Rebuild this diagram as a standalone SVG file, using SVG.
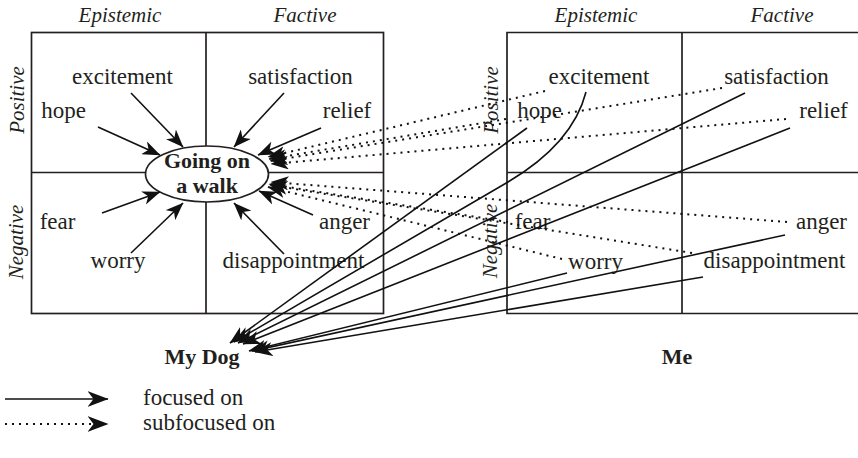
<svg xmlns="http://www.w3.org/2000/svg" width="858" height="458" viewBox="0 0 858 458">
<style>
.bg{fill:#ffffff}
.box{fill:none;stroke:#231f20;stroke-width:1.7}
.t{font-family:'Liberation Serif','Times New Roman',serif;font-size:23px;fill:#231f20;text-anchor:middle}
.h{font-style:italic;font-size:21px}
.b{font-weight:bold;font-size:22px}
.s{fill:none;stroke:#111;stroke-width:1.6;marker-end:url(#ah)}
.d{stroke-width:2;stroke-dasharray:2 5}
</style>
<defs>
<marker id="ah" markerUnits="userSpaceOnUse" viewBox="0 0 18 14" markerWidth="18" markerHeight="14" refX="17.5" refY="7" orient="auto">
<path d="M0,0 L18,7 L0,14 L5,7 z" fill="#111" stroke="none"/>
</marker>
<marker id="ahL" markerUnits="userSpaceOnUse" viewBox="0 0 21 16" markerWidth="21" markerHeight="16" refX="20.5" refY="8" orient="auto">
<path d="M0,0 L21,8 L0,16 L6,8 z" fill="#111" stroke="none"/>
</marker>
</defs>
<rect class="bg" x="0" y="0" width="858" height="458"/>

<g font-family="Liberation Serif, serif">
<g id="grid-dog">
<rect class="box" x="31.5" y="32.5" width="352" height="281"/>
<line class="box" x1="206" y1="32.5" x2="206" y2="313.5"/>
<line class="box" x1="31.5" y1="172.5" x2="383.5" y2="172.5"/>
<text class="t h" x="120" y="22">Epistemic</text>
<text class="t h" x="305" y="22">Factive</text>
<text class="t h" transform="translate(24,100) rotate(-90)">Positive</text>
<text class="t h" transform="translate(23,242) rotate(-90)">Negative</text>
</g>

<g id="grid-me">
<path class="box" d="M870,32.5 H507 V313.5 H870"/>
<line class="box" x1="682" y1="32.5" x2="682" y2="313.5"/>
<line class="box" x1="507" y1="172.5" x2="870" y2="172.5"/>
<text class="t h" x="596" y="22">Epistemic</text>
<text class="t h" x="782" y="22">Factive</text>
<text class="t h" transform="translate(498,100) rotate(-90)">Positive</text>
<text class="t h" transform="translate(497,241) rotate(-90)">Negative</text>
</g>

<g id="dog-excitement"><text class="t" x="122.5" y="84">excitement</text></g>
<g id="dog-hope"><text class="t" x="63.5" y="118">hope</text></g>
<g id="dog-satisfaction"><text class="t" x="300.5" y="84">satisfaction</text></g>
<g id="dog-relief"><text class="t" x="347" y="118">relief</text></g>
<g id="dog-fear"><text class="t" x="57.5" y="229">fear</text></g>
<g id="dog-anger"><text class="t" x="344.5" y="229">anger</text></g>
<g id="dog-worry"><text class="t" x="118" y="268">worry</text></g>
<g id="dog-disappointment"><text class="t" x="293.5" y="268">disappointment</text></g>

<g id="me-excitement"><text class="t" x="599" y="84">excitement</text></g>
<g id="me-hope"><text class="t" x="539.5" y="118">hope</text></g>
<g id="me-satisfaction"><text class="t" x="776.5" y="84">satisfaction</text></g>
<g id="me-relief"><text class="t" x="823.5" y="118">relief</text></g>
<g id="me-fear"><text class="t" x="532.5" y="229">fear</text></g>
<g id="me-anger"><text class="t" x="821.5" y="229">anger</text></g>
<g id="me-worry"><text class="t" x="595.5" y="269">worry</text></g>
<g id="me-disappointment"><text class="t" x="774.5" y="268">disappointment</text></g>

<g id="walk">
<ellipse cx="207" cy="174" rx="61.5" ry="28" fill="#fff" stroke="#231f20" stroke-width="1.7"/>
<text class="t b" x="207" y="168">Going on</text>
<text class="t b" x="207" y="193">a walk</text>
</g>

<g id="my-dog"><text class="t b" x="202" y="364">My Dog</text></g>
<g id="me"><text class="t b" x="677" y="364">Me</text></g>

<g id="connectors">
<path class="s" d="M98,127 L160,155"/>
<path class="s" d="M131,93 L183,147"/>
<path class="s" d="M284,93 L234,147"/>
<path class="s" d="M321,128 L258,155"/>
<path class="s" d="M102,213 L160,192"/>
<path class="s" d="M131,253 L183,203"/>
<path class="s" d="M284,254 L234,203"/>
<path class="s" d="M313,215 L259,191"/>

<path class="s d" d="M545,91 L268,157"/>
<path class="s d" d="M722,88 L270,161"/>
<path class="s d" d="M506,119 L269,159"/>
<path class="s d" d="M786,119 L271,164"/>
<path class="s d" d="M787,222 L271,182"/>
<path class="s d" d="M692,253 L270,185"/>
<path class="s d" d="M508,222 L269,184"/>
<path class="s d" d="M562,259 L268,187"/>

<path class="s" d="M527,128 L230,343"/>
<path class="s" d="M586,92 C575,135 540,163 508,182 L234,342"/>
<path class="s" d="M745,93 L238,343"/>
<path class="s" d="M790,128 L243,344"/>
<path class="s" d="M567,273 L249,351"/>
<path class="s" d="M785,235 L252,351"/>
<path class="s" d="M703,277 L255,352"/>
</g>

<g id="legend">
<line x1="5" y1="399" x2="108" y2="399" stroke="#111" stroke-width="1.6" marker-end="url(#ahL)"/>
<line x1="5" y1="424" x2="108" y2="424" stroke="#111" stroke-width="2" stroke-dasharray="2 5" marker-end="url(#ahL)"/>
<text class="t" x="143" y="405" style="text-anchor:start">focused on</text>
<text class="t" x="143" y="430" style="text-anchor:start">subfocused on</text>
</g>
</g>
</svg>
